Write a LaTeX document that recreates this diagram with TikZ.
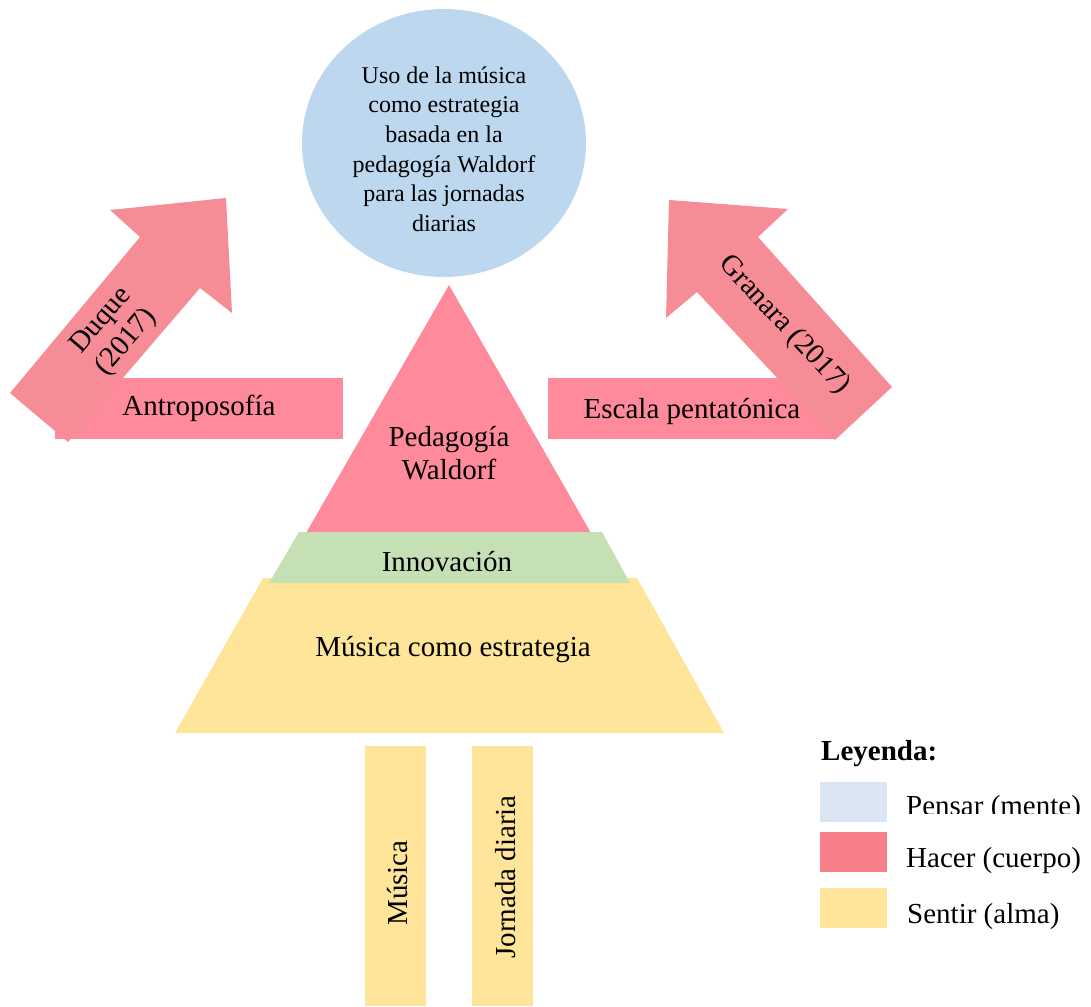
\documentclass[tikz,border=0pt]{standalone}
\usepackage{fontspec}
\setmainfont{Liberation Serif}
\definecolor{thinkblue}{HTML}{BDD7EE}
\definecolor{legblue}{HTML}{DAE6F3}
\definecolor{dored}{HTML}{FF8A9C}
\definecolor{arrowred}{HTML}{F58C96}
\definecolor{legred}{HTML}{F67F8A}
\definecolor{feelyellow}{HTML}{FFE599}
\definecolor{innogreen}{HTML}{C5E0B4}
\tikzset{
  lbl/.style={inner sep=0pt, align=center, font=\fontsize{29}{33}\selectfont},
  small/.style={inner sep=0pt, align=center, font=\fontsize{24}{29.6}\selectfont},
  legtxt/.style={inner sep=0pt, anchor=base west, font=\fontsize{29}{33}\selectfont},
}
\begin{document}
\begin{tikzpicture}[x=1pt,y=-1pt]
\useasboundingbox (0,0) rectangle (1091,1006);
% top ellipse
\fill[thinkblue] (444,143) ellipse [x radius=142, y radius=134];
\node[small] (goal) at (444,149) {Uso de la música\\como estrategia\\basada en la\\pedagogía Waldorf\\para las jornadas\\diarias};
% side bars
\fill[dored] (55,378) rectangle (343,439);
\fill[dored] (548,378) rectangle (836,439);
% arrows
\fill[arrowred] (10,393) -- (140,237) -- (110,210) -- (226,198) -- (232,313) -- (200,288) -- (68,442) -- cycle;
\fill[arrowred] (835,440) -- (697,292) -- (666,318) -- (669,200) -- (788,209) -- (758,237) -- (892,387) -- cycle;
\node[lbl] (antro) at (199,408) {Antroposofía};
\node[lbl] (escala) at (692,412) {Escala pentatónica};
\node[lbl, rotate=49.5] (duque) at (114,332) {Duque\\(2017)};
\node[lbl, rotate=-47] (granara) at (784,325) {Granara (2017)};
% pyramid
\fill[dored] (449,285) -- (595,540) -- (302,540) -- cycle;
\fill[feelyellow] (263,578) -- (637,578) -- (724,733) -- (175,733) -- cycle;
\fill[innogreen] (299,532) -- (602,532) -- (630,583) -- (269,583) -- cycle;
\node[lbl] (peda) at (449,453) {Pedagogía\\Waldorf};
\node[lbl] (inno) at (447,562) {Innovación};
\node[lbl] (musest) at (453,650) {Música como estrategia};
% bottom bars
\fill[feelyellow] (365,746) rectangle (426,1006);
\fill[feelyellow] (472,746) rectangle (533,1006);
\node[lbl, rotate=90] (mus) at (398,883) {Música};
\node[lbl, rotate=90] (jorn) at (506,877) {Jornada diaria};
% legend
\node[legtxt, font=\fontsize{29}{33}\selectfont\bfseries] (ley) at (821,760) {Leyenda:};
\fill[legblue] (820,782) rectangle (887,822);
\fill[legred] (820,832) rectangle (887,872);
\fill[feelyellow] (820,888) rectangle (887,928);
\begin{scope}
\clip (895,770) rectangle (1091,813);
\node[legtxt] (pensar) at (906,815) {Pensar (mente)};
\end{scope}
\node[legtxt] (hacer) at (906,867) {Hacer (cuerpo)};
\node[legtxt] (sentir) at (907,923) {Sentir (alma)};
\end{tikzpicture}
\end{document}
